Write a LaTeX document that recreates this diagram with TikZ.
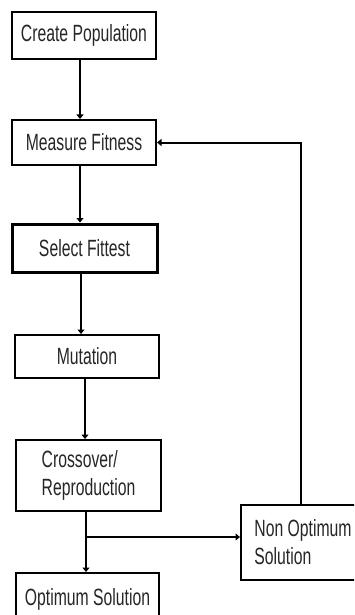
\documentclass[tikz,border=0pt]{standalone}
\usepackage{fontspec}
\newfontfamily\narrowfont[FakeStretch=0.67]{Liberation Sans}
\usetikzlibrary{arrows.meta}
\tikzset{
  box/.style={draw=black, line width=2pt, fill=white, rectangle, inner sep=0pt,
    font=\narrowfont\fontsize{23.5}{28}\selectfont, text=black!85},
  conn/.style={line width=2pt, draw=black},
  arr/.style={conn, -{Triangle[width=7pt,length=4.5pt]}}
}
\begin{document}
\begin{tikzpicture}[x=1pt,y=-1pt]
\useasboundingbox (0,0) rectangle (354,615);
\clip (0,0) rectangle (354,615);
\fill[white] (0,0) rectangle (354,615);
\node[box, minimum width=144pt, minimum height=47pt] (create) at (84,35.5) {Create Population};
\node[box, minimum width=144pt, minimum height=45pt] (measure) at (84,142.5) {Measure Fitness};
\node[box, line width=3pt, minimum width=145pt, minimum height=48pt] (select) at (84.5,248) {Select Fittest};
\node[box, minimum width=144pt, minimum height=43pt] (mutation) at (87,356.5) {Mutation};
\node[box, minimum width=145pt, minimum height=71pt, align=left] (cross) at (88.5,475.5) {Crossover/\\Reproduction};
\node[box, minimum width=124pt, minimum height=75pt, align=left] (nonopt) at (303,542) {Non Optimum\\Solution};
\node[box, minimum width=143pt, minimum height=52pt] (optimum) at (87.5,599) {Optimum Solution};
\coordinate (x1) at (80,0);
\coordinate (x2) at (81,0);
\coordinate (x3) at (85,0);
\coordinate (x4) at (86,0);
\coordinate (x5) at (301,0);
\coordinate (branch) at (86,537);
\draw[arr] (create.south -| x1) -- (measure.north -| x1);
\draw[arr] (measure.south -| x1) -- (select.north -| x1);
\draw[arr] (select.south -| x2) -- (mutation.north -| x2);
\draw[arr] (mutation.south -| x3) -- (cross.north -| x3);
\draw[arr] (cross.south -| x4) -- (optimum.north -| x4);
\draw[arr] (branch) -- (branch -| nonopt.west);
\draw[arr] (nonopt.north -| x5) |- (measure.east);
\end{tikzpicture}
\end{document}
